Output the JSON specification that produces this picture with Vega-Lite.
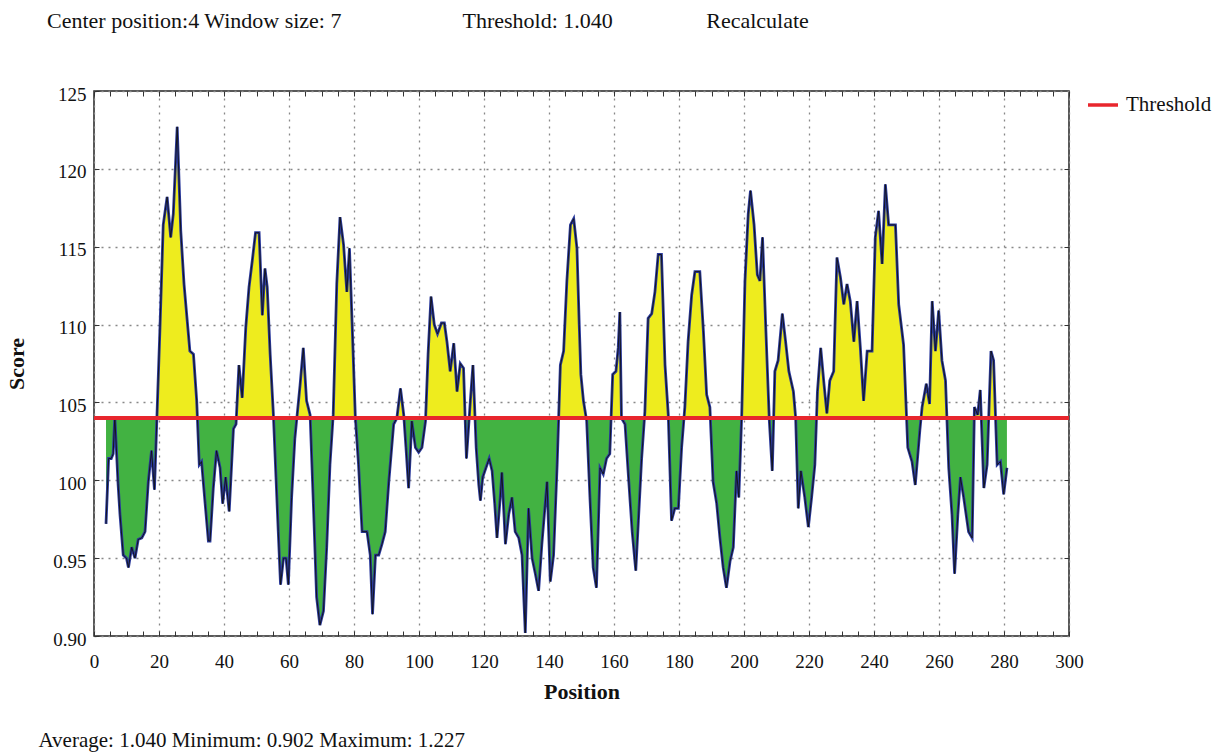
{
  "$schema": "https://vega.github.io/schema/vega-lite/v6.json",
  "autosize": {"type": "none"},
  "width": 975,
  "height": 545,
  "padding": {"left": 94, "top": 91, "right": 153, "bottom": 116},
  "background": "white",
  "title": {
    "text": "Center position:4 Window size:\u00a07\u00a0\u00a0\u00a0\u00a0\u00a0\u00a0\u00a0\u00a0\u00a0\u00a0\u00a0\u00a0\u00a0\u00a0\u00a0\u00a0\u00a0\u00a0\u00a0\u00a0\u00a0\u00a0Threshold:\u00a01.040\u00a0\u00a0\u00a0\u00a0\u00a0\u00a0\u00a0\u00a0\u00a0\u00a0\u00a0\u00a0\u00a0\u00a0\u00a0\u00a0\u00a0Recalculate",
    "anchor": "start",
    "frame": "group",
    "dx": -47,
    "offset": 35,
    "baseline": "alphabetic",
    "font": "Liberation Serif",
    "fontSize": 22,
    "fontWeight": "normal",
    "color": "#111"
  },
  "config": {
    "font": "Liberation Serif",
    "view": {"stroke": "#222", "strokeWidth": 1.5},
    "axis": {"labelFont": "Liberation Serif", "titleFont": "Liberation Serif", "labelColor": "#111", "titleColor": "#111", "tickColor": "#333", "domain": false}
  },
  "data": {
    "values": [
      {"position": 3.7, "score": 0.972}, {"position": 4.5, "score": 1.014}, {"position": 5.3, "score": 1.014}, {"position": 5.9, "score": 1.017}, {"position": 6.4, "score": 1.041},
      {"position": 7.4, "score": 0.998}, {"position": 8.0, "score": 0.978}, {"position": 9.0, "score": 0.952}, {"position": 10.0, "score": 0.950}, {"position": 10.6, "score": 0.944},
      {"position": 11.6, "score": 0.957}, {"position": 12.6, "score": 0.950}, {"position": 13.6, "score": 0.962}, {"position": 14.7, "score": 0.963}, {"position": 15.7, "score": 0.967},
      {"position": 16.7, "score": 0.999}, {"position": 17.7, "score": 1.019}, {"position": 18.6, "score": 0.994}, {"position": 20.3, "score": 1.098}, {"position": 21.3, "score": 1.164},
      {"position": 22.5, "score": 1.182}, {"position": 23.6, "score": 1.156}, {"position": 24.4, "score": 1.171}, {"position": 25.6, "score": 1.227}, {"position": 26.7, "score": 1.160},
      {"position": 27.7, "score": 1.126}, {"position": 28.7, "score": 1.102}, {"position": 29.5, "score": 1.083}, {"position": 30.6, "score": 1.081}, {"position": 31.6, "score": 1.051},
      {"position": 32.4, "score": 1.010}, {"position": 33.1, "score": 1.012}, {"position": 34.2, "score": 0.985}, {"position": 35.2, "score": 0.961}, {"position": 35.7, "score": 0.961},
      {"position": 36.7, "score": 0.995}, {"position": 37.7, "score": 1.019}, {"position": 38.8, "score": 1.008}, {"position": 39.6, "score": 0.985}, {"position": 40.5, "score": 1.002},
      {"position": 41.6, "score": 0.980}, {"position": 42.9, "score": 1.033}, {"position": 43.7, "score": 1.036}, {"position": 44.6, "score": 1.074}, {"position": 45.6, "score": 1.053},
      {"position": 46.7, "score": 1.098}, {"position": 47.7, "score": 1.124}, {"position": 48.7, "score": 1.141}, {"position": 49.7, "score": 1.159}, {"position": 50.8, "score": 1.159},
      {"position": 51.8, "score": 1.106}, {"position": 52.6, "score": 1.136}, {"position": 53.3, "score": 1.124}, {"position": 54.2, "score": 1.081}, {"position": 55.2, "score": 1.042},
      {"position": 56.0, "score": 1.002}, {"position": 56.7, "score": 0.967}, {"position": 57.4, "score": 0.933}, {"position": 58.3, "score": 0.950}, {"position": 59.1, "score": 0.950},
      {"position": 59.8, "score": 0.933}, {"position": 60.8, "score": 0.989}, {"position": 61.8, "score": 1.027}, {"position": 63.4, "score": 1.061}, {"position": 64.4, "score": 1.085},
      {"position": 65.4, "score": 1.051}, {"position": 66.5, "score": 1.042}, {"position": 67.5, "score": 0.985}, {"position": 68.5, "score": 0.925}, {"position": 69.5, "score": 0.907},
      {"position": 70.6, "score": 0.916}, {"position": 71.6, "score": 0.957}, {"position": 72.6, "score": 1.010}, {"position": 73.6, "score": 1.042}, {"position": 74.7, "score": 1.126},
      {"position": 75.7, "score": 1.169}, {"position": 76.8, "score": 1.151}, {"position": 77.8, "score": 1.121}, {"position": 78.6, "score": 1.149}, {"position": 79.4, "score": 1.102},
      {"position": 80.4, "score": 1.041}, {"position": 81.4, "score": 1.010}, {"position": 82.5, "score": 0.967}, {"position": 84.0, "score": 0.967}, {"position": 85.0, "score": 0.952},
      {"position": 85.7, "score": 0.914}, {"position": 86.6, "score": 0.952}, {"position": 87.6, "score": 0.952}, {"position": 88.6, "score": 0.959}, {"position": 89.6, "score": 0.967},
      {"position": 90.7, "score": 0.999}, {"position": 92.2, "score": 1.036}, {"position": 93.2, "score": 1.040}, {"position": 94.3, "score": 1.059}, {"position": 95.3, "score": 1.042},
      {"position": 96.0, "score": 1.021}, {"position": 96.8, "score": 0.995}, {"position": 97.8, "score": 1.038}, {"position": 98.9, "score": 1.021}, {"position": 99.9, "score": 1.018},
      {"position": 100.9, "score": 1.021}, {"position": 102.0, "score": 1.038}, {"position": 102.8, "score": 1.081}, {"position": 103.7, "score": 1.118}, {"position": 104.7, "score": 1.100},
      {"position": 105.7, "score": 1.094}, {"position": 106.9, "score": 1.101}, {"position": 107.8, "score": 1.101}, {"position": 108.6, "score": 1.089}, {"position": 109.6, "score": 1.070},
      {"position": 110.7, "score": 1.088}, {"position": 111.7, "score": 1.057}, {"position": 112.7, "score": 1.075}, {"position": 113.7, "score": 1.072}, {"position": 114.6, "score": 1.014},
      {"position": 115.8, "score": 1.051}, {"position": 116.6, "score": 1.074}, {"position": 117.6, "score": 1.021}, {"position": 118.4, "score": 0.997}, {"position": 118.9, "score": 0.987},
      {"position": 119.6, "score": 1.002}, {"position": 120.6, "score": 1.008}, {"position": 121.6, "score": 1.014}, {"position": 122.5, "score": 1.006}, {"position": 123.3, "score": 0.985},
      {"position": 124.0, "score": 0.963}, {"position": 125.0, "score": 0.989}, {"position": 125.5, "score": 1.005}, {"position": 126.6, "score": 0.959}, {"position": 127.6, "score": 0.978},
      {"position": 128.6, "score": 0.989}, {"position": 129.6, "score": 0.967}, {"position": 130.7, "score": 0.963}, {"position": 131.7, "score": 0.952}, {"position": 132.7, "score": 0.902},
      {"position": 133.7, "score": 0.982}, {"position": 134.8, "score": 0.950}, {"position": 135.8, "score": 0.940}, {"position": 136.8, "score": 0.929}, {"position": 137.8, "score": 0.959},
      {"position": 139.4, "score": 0.999}, {"position": 140.4, "score": 0.935}, {"position": 141.4, "score": 0.952}, {"position": 142.5, "score": 1.010}, {"position": 143.5, "score": 1.074},
      {"position": 144.5, "score": 1.083}, {"position": 145.5, "score": 1.128}, {"position": 146.6, "score": 1.164}, {"position": 147.6, "score": 1.168}, {"position": 148.6, "score": 1.149},
      {"position": 149.3, "score": 1.100}, {"position": 149.8, "score": 1.068}, {"position": 150.6, "score": 1.051}, {"position": 151.6, "score": 1.038}, {"position": 152.6, "score": 0.989},
      {"position": 153.6, "score": 0.944}, {"position": 154.6, "score": 0.931}, {"position": 155.7, "score": 1.008}, {"position": 156.7, "score": 1.004}, {"position": 157.7, "score": 1.014},
      {"position": 158.7, "score": 1.017}, {"position": 159.6, "score": 1.068}, {"position": 160.6, "score": 1.070}, {"position": 161.3, "score": 1.085}, {"position": 161.8, "score": 1.108},
      {"position": 162.3, "score": 1.040}, {"position": 163.4, "score": 1.036}, {"position": 164.4, "score": 1.004}, {"position": 165.6, "score": 0.967}, {"position": 166.7, "score": 0.942},
      {"position": 167.5, "score": 0.974}, {"position": 168.5, "score": 1.014}, {"position": 169.5, "score": 1.044}, {"position": 170.5, "score": 1.104}, {"position": 171.6, "score": 1.107},
      {"position": 172.6, "score": 1.121}, {"position": 173.6, "score": 1.145}, {"position": 174.6, "score": 1.145}, {"position": 175.7, "score": 1.074}, {"position": 176.7, "score": 1.042},
      {"position": 177.7, "score": 0.974}, {"position": 178.7, "score": 0.982}, {"position": 179.8, "score": 0.982}, {"position": 180.8, "score": 1.021}, {"position": 181.8, "score": 1.047},
      {"position": 182.8, "score": 1.089}, {"position": 183.9, "score": 1.119}, {"position": 184.9, "score": 1.134}, {"position": 186.4, "score": 1.134}, {"position": 187.5, "score": 1.096},
      {"position": 188.5, "score": 1.055}, {"position": 189.5, "score": 1.047}, {"position": 190.5, "score": 0.999}, {"position": 191.6, "score": 0.985}, {"position": 192.6, "score": 0.963},
      {"position": 193.6, "score": 0.944}, {"position": 194.6, "score": 0.931}, {"position": 195.7, "score": 0.948}, {"position": 196.7, "score": 0.957}, {"position": 197.7, "score": 1.006},
      {"position": 198.4, "score": 0.989}, {"position": 199.3, "score": 1.042}, {"position": 200.3, "score": 1.128}, {"position": 201.3, "score": 1.171}, {"position": 202.0, "score": 1.186},
      {"position": 203.1, "score": 1.164}, {"position": 204.1, "score": 1.132}, {"position": 204.9, "score": 1.128}, {"position": 205.7, "score": 1.156}, {"position": 206.7, "score": 1.098},
      {"position": 207.8, "score": 1.038}, {"position": 208.7, "score": 1.006}, {"position": 209.5, "score": 1.070}, {"position": 210.5, "score": 1.077}, {"position": 211.8, "score": 1.107},
      {"position": 212.8, "score": 1.089}, {"position": 213.8, "score": 1.070}, {"position": 215.2, "score": 1.057}, {"position": 215.9, "score": 1.040}, {"position": 216.7, "score": 0.982},
      {"position": 217.5, "score": 1.006}, {"position": 218.7, "score": 0.989}, {"position": 219.8, "score": 0.970}, {"position": 220.8, "score": 0.989}, {"position": 221.8, "score": 1.010},
      {"position": 222.6, "score": 1.057}, {"position": 223.6, "score": 1.085}, {"position": 224.6, "score": 1.062}, {"position": 225.5, "score": 1.043}, {"position": 226.4, "score": 1.064},
      {"position": 227.6, "score": 1.070}, {"position": 228.6, "score": 1.143}, {"position": 229.7, "score": 1.130}, {"position": 230.7, "score": 1.113}, {"position": 231.7, "score": 1.126},
      {"position": 232.7, "score": 1.115}, {"position": 233.8, "score": 1.089}, {"position": 234.8, "score": 1.115}, {"position": 235.8, "score": 1.085}, {"position": 236.8, "score": 1.051},
      {"position": 237.9, "score": 1.083}, {"position": 239.4, "score": 1.083}, {"position": 240.4, "score": 1.156}, {"position": 241.4, "score": 1.173}, {"position": 242.5, "score": 1.139},
      {"position": 243.5, "score": 1.190}, {"position": 244.5, "score": 1.164}, {"position": 246.6, "score": 1.164}, {"position": 247.6, "score": 1.113}, {"position": 249.1, "score": 1.087},
      {"position": 250.4, "score": 1.021}, {"position": 251.7, "score": 1.012}, {"position": 252.7, "score": 0.997}, {"position": 254.1, "score": 1.032}, {"position": 254.8, "score": 1.047},
      {"position": 256.1, "score": 1.062}, {"position": 257.1, "score": 1.049}, {"position": 257.9, "score": 1.115}, {"position": 258.9, "score": 1.083}, {"position": 259.9, "score": 1.109},
      {"position": 260.9, "score": 1.077}, {"position": 262.0, "score": 1.064}, {"position": 263.0, "score": 1.008}, {"position": 264.0, "score": 0.978}, {"position": 264.8, "score": 0.940},
      {"position": 265.8, "score": 0.978}, {"position": 266.6, "score": 1.002}, {"position": 267.6, "score": 0.989}, {"position": 269.1, "score": 0.967}, {"position": 270.2, "score": 0.963},
      {"position": 270.9, "score": 1.047}, {"position": 271.9, "score": 1.042}, {"position": 272.7, "score": 1.058}, {"position": 273.8, "score": 0.995}, {"position": 274.8, "score": 1.010},
      {"position": 276.0, "score": 1.083}, {"position": 276.8, "score": 1.077}, {"position": 277.9, "score": 1.010}, {"position": 278.9, "score": 1.012}, {"position": 279.9, "score": 0.991},
      {"position": 280.9, "score": 1.008}
    ]
  },
  "resolve": {"axis": {"x": "independent", "y": "independent"}},
  "layer": [
    {
      "mark": {
        "type": "area",
        "interpolate": "linear",
        "color": {
          "gradient": "linear", "x1": 0, "y1": 0, "x2": 0, "y2": 1,
          "stops": [
            {"offset": 0, "color": "#eeec1e"},
            {"offset": 0.5754, "color": "#eeec1e"},
            {"offset": 0.5754, "color": "#42b242"},
            {"offset": 1, "color": "#42b242"}
          ]
        }
      },
      "encoding": {
        "x": {
          "field": "position", "type": "quantitative",
          "scale": {"domain": [0, 300], "nice": false, "zero": false},
          "axis": {
            "orient": "bottom", "offset": -5, "tickSize": 5, "tickWidth": 1,
            "values": [0,5,10,15,20,25,30,35,40,45,50,55,60,65,70,75,80,85,90,95,100,105,110,115,120,125,130,135,140,145,150,155,160,165,170,175,180,185,190,195,200,205,210,215,220,225,230,235,240,245,250,255,260,265,270,275,280,285,290,295,300],
            "labelExpr": "datum.value % 20 === 0 ? datum.label : ''",
            "labelFontSize": 19, "labelPadding": 16, "labelFlush": false,
            "grid": true, "gridDash": [2, 5], "gridColor": "#888", "gridWidth": 1.3,
            "gridOpacity": {"condition": {"test": "datum.value % 20 === 0", "value": 1}, "value": 0},
            "title": "Position", "titleFontSize": 22, "titleFontWeight": "bold", "titlePadding": 10
          }
        },
        "y": {
          "field": "score", "type": "quantitative",
          "scale": {"domain": [0.9, 1.25], "nice": false, "zero": false},
          "axis": {
            "orient": "left", "offset": -5, "tickSize": 5, "tickWidth": 1,
            "values": [0.9, 0.95, 1.0, 1.05, 1.1, 1.15, 1.2, 1.25],
            "labelExpr": "datum.value < 0.99 ? format(datum.value, '.2f') : format(datum.value * 100, '.0f')",
            "labelFontSize": 19, "labelPadding": 8, "labelFlush": false, "labelOffset": 3,
            "grid": true, "gridDash": [2, 5], "gridColor": "#888", "gridWidth": 1.3,
            "title": "Score", "titleFontSize": 22, "titleFontWeight": "bold", "titlePadding": 24
          }
        },
        "y2": {"datum": 1.04}
      }
    },
    {
      "mark": {"type": "line", "color": "#2b3a9c", "strokeWidth": 2.8, "interpolate": "linear"},
      "encoding": {
        "x": {
          "field": "position", "type": "quantitative",
          "axis": {
            "orient": "top", "offset": -5, "tickSize": 5, "tickWidth": 1, "labels": false, "grid": false, "title": null,
            "values": [0,5,10,15,20,25,30,35,40,45,50,55,60,65,70,75,80,85,90,95,100,105,110,115,120,125,130,135,140,145,150,155,160,165,170,175,180,185,190,195,200,205,210,215,220,225,230,235,240,245,250,255,260,265,270,275,280,285,290,295,300]
          }
        },
        "y": {
          "field": "score", "type": "quantitative",
          "axis": {
            "orient": "right", "offset": -5, "tickSize": 5, "tickWidth": 1, "labels": false, "grid": false, "title": null,
            "values": [0.95, 1.0, 1.05, 1.1, 1.15, 1.2]
          }
        }
      }
    },
    {
      "mark": {"type": "line", "color": "#111", "strokeWidth": 0.9, "interpolate": "linear"},
      "encoding": {
        "x": {
          "field": "position", "type": "quantitative",
          "axis": {
            "orient": "bottom", "labels": false, "ticks": false, "grid": false,
            "title": "Average: 1.040 Minimum: 0.902 Maximum: 1.227",
            "titleX": -56, "titleY": 110, "titleAlign": "left", "titleAnchor": "start", "titleBaseline": "alphabetic",
            "titleFontSize": 21, "titleFontWeight": "normal"
          }
        },
        "y": {"field": "score", "type": "quantitative", "axis": null}
      }
    },
    {
      "mark": {"type": "rule", "strokeWidth": 3.2},
      "encoding": {
        "y": {"datum": 1.04, "type": "quantitative", "axis": null},
        "stroke": {
          "datum": "Threshold", "type": "nominal",
          "scale": {"range": ["#e8262d"]},
          "legend": {
            "orient": "none", "legendX": 992, "legendY": -3, "padding": 0, "title": null,
            "symbolType": "stroke", "symbolStrokeWidth": 3.5, "symbolSize": 900,
            "labelFontSize": 21, "labelFont": "Liberation Serif", "labelColor": "#111", "labelOffset": 6
          }
        }
      }
    }
  ]
}
